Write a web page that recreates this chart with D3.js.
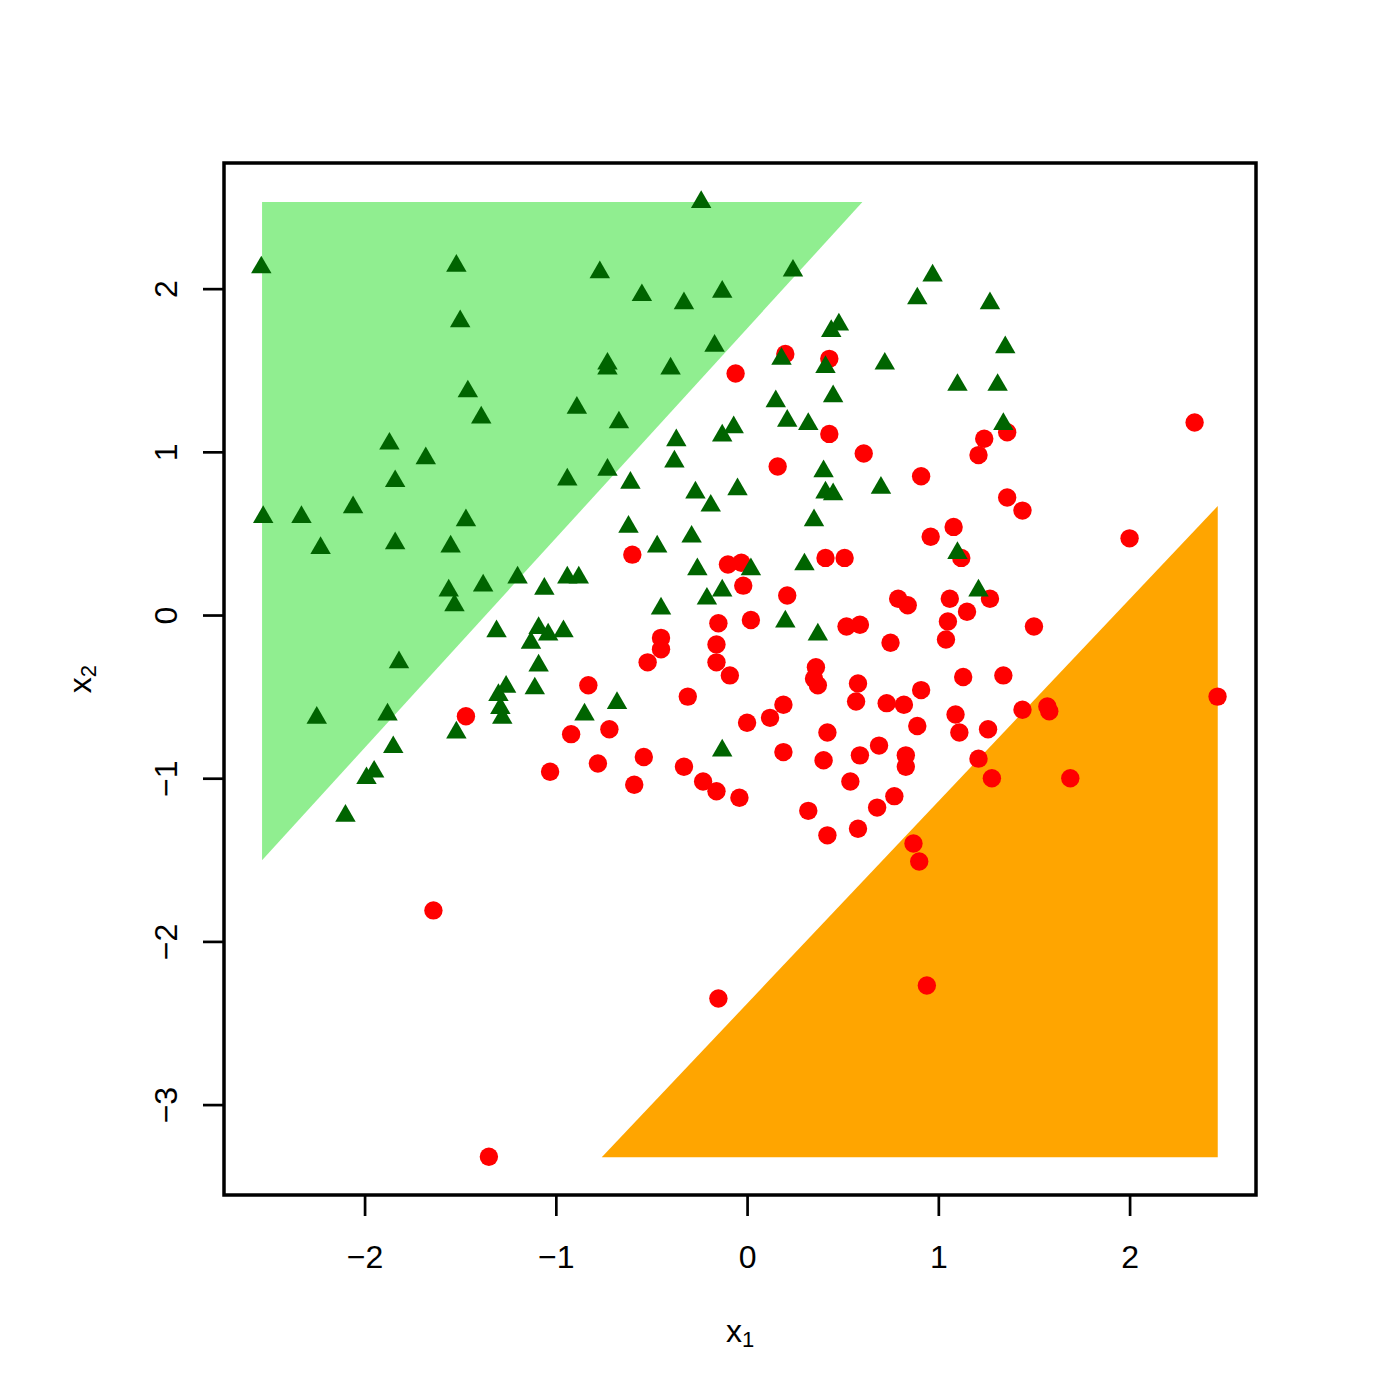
<!DOCTYPE html>
<html>
<head>
<meta charset="utf-8">
<script src="https://cdn.jsdelivr.net/npm/d3@7"></script>
<style>
  html, body { margin: 0; padding: 0; background: #ffffff; }
  svg { display: block; }
  text { font-family: "Liberation Sans", Arial, Helvetica, sans-serif; fill: #000; }
</style>
</head>
<body>
<div id="chart"></div>
<script>
// ---- data (x1, x2) ----
const classTriangles = [
  [-2.54, 2.13], [-1.52, 2.14], [-1.50, 1.80], [-1.46, 1.37], [-1.39, 1.21],
  [-1.87, 1.05], [-1.68, 0.96], [-1.84, 0.82], [-2.06, 0.66], [-2.53, 0.60],
  [-2.33, 0.60], [-1.47, 0.58], [-0.94, 0.83], [-0.24, 2.53], [-0.77, 2.10],
  [0.24, 2.11], [-0.55, 1.96], [-0.33, 1.91], [-0.13, 1.98], [-0.17, 1.65],
  [-0.73, 1.54], [-0.73, 1.51], [-0.40, 1.51], [-0.89, 1.27], [-0.67, 1.18],
  [-0.73, 0.89], [-0.61, 0.81], [-0.62, 0.54], [0.48, 1.78], [0.44, 1.74],
  [0.18, 1.57], [0.41, 1.52], [0.72, 1.54], [0.45, 1.34], [0.15, 1.31],
  [0.21, 1.19], [0.32, 1.17], [-0.07, 1.15], [-0.13, 1.10], [-0.37, 1.07],
  [-0.38, 0.94], [0.40, 0.88], [-0.27, 0.75], [-0.19, 0.67], [-0.05, 0.77],
  [0.41, 0.75], [0.45, 0.74], [0.70, 0.78], [0.35, 0.58], [0.97, 2.08],
  [0.89, 1.94], [1.27, 1.91], [1.35, 1.64], [1.10, 1.41], [1.31, 1.41],
  [1.34, 1.17], [1.10, 0.38], [1.21, 0.15], [-2.23, 0.41], [-1.84, 0.44],
  [-1.55, 0.42], [-1.20, 0.23], [-1.38, 0.18], [-1.56, 0.15], [-1.53, 0.06],
  [-1.06, 0.16], [-0.94, 0.23], [-0.88, 0.23], [-1.31, -0.10], [-1.09, -0.08],
  [-1.04, -0.12], [-1.13, -0.17], [-0.96, -0.10], [-1.09, -0.31], [-1.26, -0.44],
  [-1.30, -0.49], [-1.29, -0.57], [-1.28, -0.63], [-1.11, -0.45], [-1.52, -0.72],
  [-1.85, -0.81], [-1.95, -0.96], [-1.99, -1.00], [-2.10, -1.23], [-1.88, -0.61],
  [-2.25, -0.63], [-1.82, -0.29], [-0.29, 0.48], [-0.47, 0.42], [-0.26, 0.28],
  [0.02, 0.28], [0.30, 0.31], [-0.13, 0.15], [-0.21, 0.10], [-0.45, 0.04],
  [0.20, -0.04], [0.37, -0.12], [-0.68, -0.54], [-0.85, -0.61], [-0.13, -0.83]
];

const classCircles = [
  [0.20, 1.60], [0.43, 1.57], [-0.06, 1.48], [0.43, 1.11], [0.61, 0.99],
  [0.16, 0.91], [1.36, 1.12], [1.24, 1.08], [1.21, 0.98], [0.91, 0.85],
  [1.36, 0.72], [1.44, 0.64], [1.08, 0.54], [2.34, 1.18], [0.96, 0.48],
  [2.00, 0.47], [1.12, 0.35], [1.27, 0.10], [0.79, 0.10], [0.84, 0.06],
  [1.06, 0.10], [1.15, 0.02], [1.50, -0.07], [1.05, -0.04], [1.04, -0.15],
  [0.75, -0.17], [1.13, -0.38], [1.34, -0.37], [0.91, -0.46], [0.73, -0.54],
  [0.82, -0.55], [1.09, -0.61], [1.11, -0.72], [0.89, -0.68], [1.26, -0.70],
  [1.44, -0.58], [1.57, -0.56], [1.58, -0.59], [2.46, -0.50], [0.69, -0.80],
  [0.83, -0.86], [0.83, -0.93], [0.77, -1.11], [0.68, -1.18], [1.21, -0.88],
  [1.28, -1.00], [1.69, -1.00], [0.87, -1.40], [0.90, -1.51], [0.94, -2.27],
  [-1.64, -1.81], [-1.35, -3.32], [-0.15, -2.35], [0.42, -1.35], [-1.47, -0.62],
  [-1.03, -0.96], [-0.92, -0.73], [-0.60, 0.37], [-0.10, 0.31], [-0.03, 0.32],
  [0.41, 0.35], [0.51, 0.35], [-0.02, 0.18], [0.21, 0.12], [-0.15, -0.05],
  [0.02, -0.03], [0.52, -0.07], [0.59, -0.06], [-0.45, -0.14], [-0.45, -0.21],
  [-0.52, -0.29], [-0.16, -0.18], [-0.16, -0.29], [-0.09, -0.37], [0.36, -0.32],
  [0.35, -0.39], [0.37, -0.43], [0.58, -0.42], [0.57, -0.53], [-0.83, -0.43],
  [-0.31, -0.50], [-0.72, -0.70], [0.19, -0.55], [0.12, -0.63], [0.00, -0.66],
  [0.42, -0.72], [0.59, -0.86], [0.19, -0.84], [0.40, -0.89], [-0.78, -0.91],
  [-0.54, -0.87], [-0.59, -1.04], [-0.33, -0.93], [-0.23, -1.02], [-0.16, -1.08],
  [-0.04, -1.12], [0.54, -1.02], [0.32, -1.20], [0.58, -1.31]
];

// decision regions (polygon vertices)
const regionUpper = [[-2.536, 2.531], [0.603, 2.531], [-2.536, -1.503]];
const regionLower = [[2.461, 0.668], [2.461, -3.323], [-0.760, -3.323]];

const xTicks = [-2, -1, 0, 1, 2];
const yTicks = [-3, -2, -1, 0, 1, 2];
const xLimits = [-2.735, 2.661];
const yLimits = [-3.554, 2.770];

// ---- layout ----
const W = 1400, H = 1400;
const box = { left: 224, right: 1256, top: 163, bottom: 1195 };

const x = d3.scaleLinear().domain(xLimits).range([box.left, box.right]);
const y = d3.scaleLinear().domain(yLimits).range([box.bottom, box.top]);

const svg = d3.select("#chart").append("svg")
  .attr("width", W).attr("height", H)
  .attr("viewBox", `0 0 ${W} ${H}`);

svg.append("rect").attr("width", W).attr("height", H).attr("fill", "#ffffff");

const line = d3.line().x(d => x(d[0])).y(d => y(d[1]));

svg.append("path")
  .attr("d", line(regionUpper) + "Z")
  .attr("fill", "#90EE90");

svg.append("path")
  .attr("d", line(regionLower) + "Z")
  .attr("fill", "#FFA500");

// circles first, then triangles
svg.append("g").selectAll("circle")
  .data(classCircles)
  .join("circle")
  .attr("cx", d => x(d[0]))
  .attr("cy", d => y(d[1]))
  .attr("r", 9.2)
  .attr("fill", "#FF0000");

const tri = d3.symbol().type(d3.symbolTriangle).size(181);
svg.append("g").selectAll("path")
  .data(classTriangles)
  .join("path")
  .attr("transform", d => `translate(${x(d[0])},${y(d[1])})`)
  .attr("d", tri)
  .attr("fill", "#006400");

// box
svg.append("rect")
  .attr("x", box.left).attr("y", box.top)
  .attr("width", box.right - box.left)
  .attr("height", box.bottom - box.top)
  .attr("fill", "none")
  .attr("stroke", "#000")
  .attr("stroke-width", 3.5);

// axes
const fmt = d3.format("d");
const xAxis = svg.append("g")
  .attr("transform", `translate(0,${box.bottom})`)
  .call(d3.axisBottom(x).tickValues(xTicks).tickFormat(fmt).tickSize(21).tickSizeOuter(0));
xAxis.select(".domain").remove();
xAxis.selectAll(".tick line").attr("stroke", "#000").attr("stroke-width", 2.7);
xAxis.selectAll(".tick text")
  .attr("y", 73).attr("dy", 0)
  .style("font-size", "32px")
  .style("font-family", "'Liberation Sans', Arial, Helvetica, sans-serif")
  .attr("fill", "#000");

const yAxis = svg.append("g")
  .attr("transform", `translate(${box.left},0)`)
  .call(d3.axisLeft(y).tickValues(yTicks).tickFormat(fmt).tickSize(21).tickSizeOuter(0));
yAxis.select(".domain").remove();
yAxis.selectAll(".tick line").attr("stroke", "#000").attr("stroke-width", 2.7);
yAxis.selectAll(".tick text")
  .attr("x", 0).attr("y", 0).attr("dy", 0)
  .attr("text-anchor", "middle")
  .attr("transform", "translate(-47,0) rotate(-90)")
  .style("font-size", "32px")
  .style("font-family", "'Liberation Sans', Arial, Helvetica, sans-serif")
  .attr("fill", "#000");

// axis titles
const cx = (box.left + box.right) / 2;
const cy = (box.top + box.bottom) / 2;

const xt = svg.append("text")
  .attr("x", cx).attr("y", 1342)
  .attr("text-anchor", "middle")
  .style("font-size", "32px");
xt.append("tspan").text("x");
xt.append("tspan").attr("dy", 5).style("font-size", "22px").text("1");

const yt = svg.append("text")
  .attr("transform", `translate(91,${cy}) rotate(-90)`)
  .attr("text-anchor", "middle")
  .style("font-size", "32px");
yt.append("tspan").text("x");
yt.append("tspan").attr("dy", 5).style("font-size", "22px").text("2");
</script>
</body>
</html>
